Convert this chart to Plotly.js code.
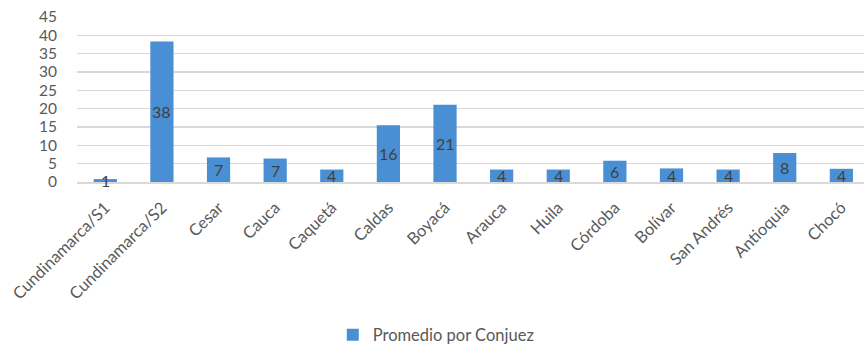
<!DOCTYPE html>
<html>
<head>
<meta charset="utf-8">
<script src="https://cdn.plot.ly/plotly-3.0.1.min.js"></script>
<style>html,body{margin:0;padding:0;background:#fff;}#chart{width:864px;height:346px;}</style>
</head>
<body>
<div id="chart"></div>
<script>
const categories = ["Cundinamarca/S1","Cundinamarca/S2","Cesar","Cauca","Caquetá","Caldas","Boyacá","Arauca","Huila","Córdoba","Bolívar","San Andrés","Antioquia","Chocó"];
const values = [0.8, 38.3, 6.7, 6.4, 3.4, 15.5, 21.1, 3.4, 3.4, 5.8, 3.7, 3.4, 7.9, 3.6];
const labels = ["1","38","7","7","4","16","21","4","4","6","4","4","8","4"];
const seriesName = "Promedio por Conjuez";
const yTicks = [0,5,10,15,20,25,30,35,40,45];

const font = "Lato, 'Open Sans', sans-serif";
const annotations = categories.map((c, i) => ({
  x: c, y: values[i] / 2, text: labels[i], showarrow: false,
  font: {family: font, size: 16, color: "#404040"}, xref: "x", yref: "y"
}));

Plotly.newPlot("chart", [{
  type: "bar", x: categories, y: values, name: seriesName,
  marker: {color: "#4a8fd4"}, showlegend: true
}], {
  width: 864, height: 346,
  margin: {l: 77, r: 0, t: 17, b: 164, autoexpand: false},
  paper_bgcolor: "#fff", plot_bgcolor: "#fff",
  bargap: 0.59,
  font: {family: font, color: "#595959"},
  xaxis: {
    type: "category", range: [-0.5, 13.4], tickangle: -45,
    tickfont: {size: 16.5, color: "#595959"}, showgrid: false,
    showline: true, linecolor: "#d9d9d9", linewidth: 1.5, ticks: "", ticklabelstandoff: 8
  },
  yaxis: {
    range: [0, 45], tickvals: yTicks, showgrid: true, gridcolor: "#d9d9d9", gridwidth: 1.5,
    zeroline: false, tickfont: {size: 15.5, color: "#595959"}, ticks: "", ticklabelstandoff: 19
  },
  legend: {orientation: "h", x: 0.325, xanchor: "left", xref: "paper", y: -0.927, yref: "paper", yanchor: "middle",
    itemwidth: 30, font: {size: 16.5, color: "#595959"}},
  annotations: annotations
}, {displayModeBar: false, staticPlot: true});
</script>
</body>
</html>
